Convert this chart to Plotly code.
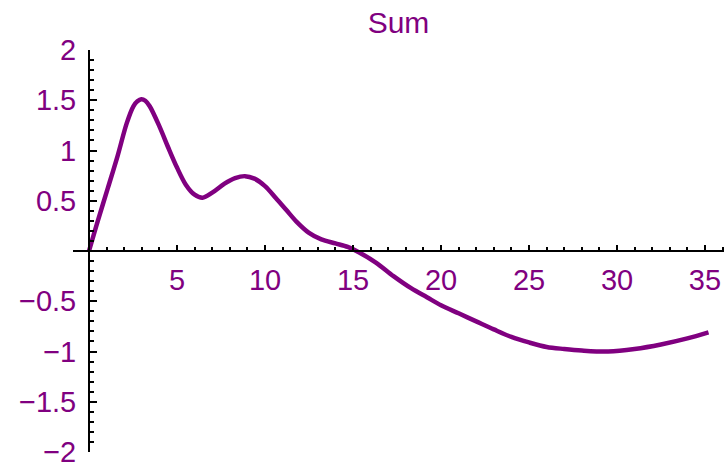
import plotly.graph_objects as go

# Curve samples
x_vals = [0, 0.5, 1.06, 1.63, 2.14, 2.52, 2.75, 2.97, 3.2, 3.45, 4.0, 4.5, 5.0, 5.5, 6.0,
          6.45, 7.0, 7.7, 8.3, 8.86, 9.4, 10.0, 10.6, 11.2, 11.8, 12.5, 13.2, 14.0,
          14.7, 15.3, 16.3, 17.3, 18.3, 19.2, 20.0, 21.0, 22.0, 23.0, 24.0, 25.0,
          26.0, 27.0, 28.0, 29.5, 31.0, 32.5, 34.0, 35.2]
y_vals = [0, 0.3, 0.62, 0.95, 1.27, 1.44, 1.49, 1.51, 1.495, 1.44, 1.24, 1.03, 0.83, 0.66, 0.56,
          0.53, 0.58, 0.67, 0.725, 0.745, 0.72, 0.645, 0.53, 0.41, 0.29, 0.18, 0.115, 0.075,
          0.04, -0.01, -0.115, -0.25, -0.37, -0.46, -0.54, -0.62, -0.70, -0.78, -0.855, -0.91,
          -0.955, -0.975, -0.99, -1.0, -0.975, -0.93, -0.87, -0.81]

x_tickvals = [5, 10, 15, 20, 25, 30, 35]
x_ticktext = ["5", "10", "15", "20", "25", "30", "35"]
y_tickvals = [-2, -1.5, -1, -0.5, 0.5, 1, 1.5, 2]
y_ticktext = ["\u22122", "\u22121.5", "\u22121", "\u22120.5", "0.5", "1", "1.5", "2"]

PURPLE = "#800080"
FONT = "Liberation Sans, Arial, sans-serif"

fig = go.Figure()
fig.add_trace(go.Scatter(x=x_vals, y=y_vals, mode="lines",
                         line=dict(color=PURPLE, width=4.5, shape="spline", smoothing=0.9),
                         hoverinfo="skip", showlegend=False))

W, H = 725, 468
L, R, T, B = 73, 1, 50, 16
x_min, x_max = -0.91, 36.08
pos_y = (0 - x_min) / (x_max - x_min)

fig.update_layout(
    width=W, height=H,
    margin=dict(l=L, r=R, t=T, b=B),
    paper_bgcolor="white", plot_bgcolor="white",
    font=dict(family=FONT, color=PURPLE, size=29),
    title=dict(text="Sum", x=0.5, xref="paper", xanchor="center",
               y=1 - 22 / H, yref="container", yanchor="middle",
               font=dict(family=FONT, size=30, color=PURPLE)),
    xaxis=dict(range=[x_min, x_max], anchor="free", position=0.5,
               showgrid=False, zeroline=False, showline=True, linecolor="black", linewidth=2,
               tickmode="array", tickvals=x_tickvals, ticktext=x_ticktext,
               ticks="inside", ticklen=5, tickwidth=2, tickcolor="black",
               ticklabelstandoff=3, ticklabeloverflow="allow",
               minor=dict(tickmode="linear", tick0=0, dtick=1, ticks="inside",
                          ticklen=3, tickwidth=1.5, tickcolor="black", showgrid=False),
               tickfont=dict(family=FONT, size=29, color=PURPLE)),
    yaxis=dict(range=[-2, 2], anchor="free", position=pos_y,
               showgrid=False, zeroline=False, showline=True, linecolor="black", linewidth=2,
               tickmode="array", tickvals=y_tickvals, ticktext=y_ticktext,
               ticks="inside", ticklen=7, tickwidth=2, tickcolor="black",
               ticklabelstandoff=6, ticklabeloverflow="allow",
               minor=dict(tickmode="linear", tick0=0, dtick=0.1, ticks="inside",
                          ticklen=4, tickwidth=1.5, tickcolor="black", showgrid=False),
               tickfont=dict(family=FONT, size=29, color=PURPLE)),
)

fig.write_html("out.html")
